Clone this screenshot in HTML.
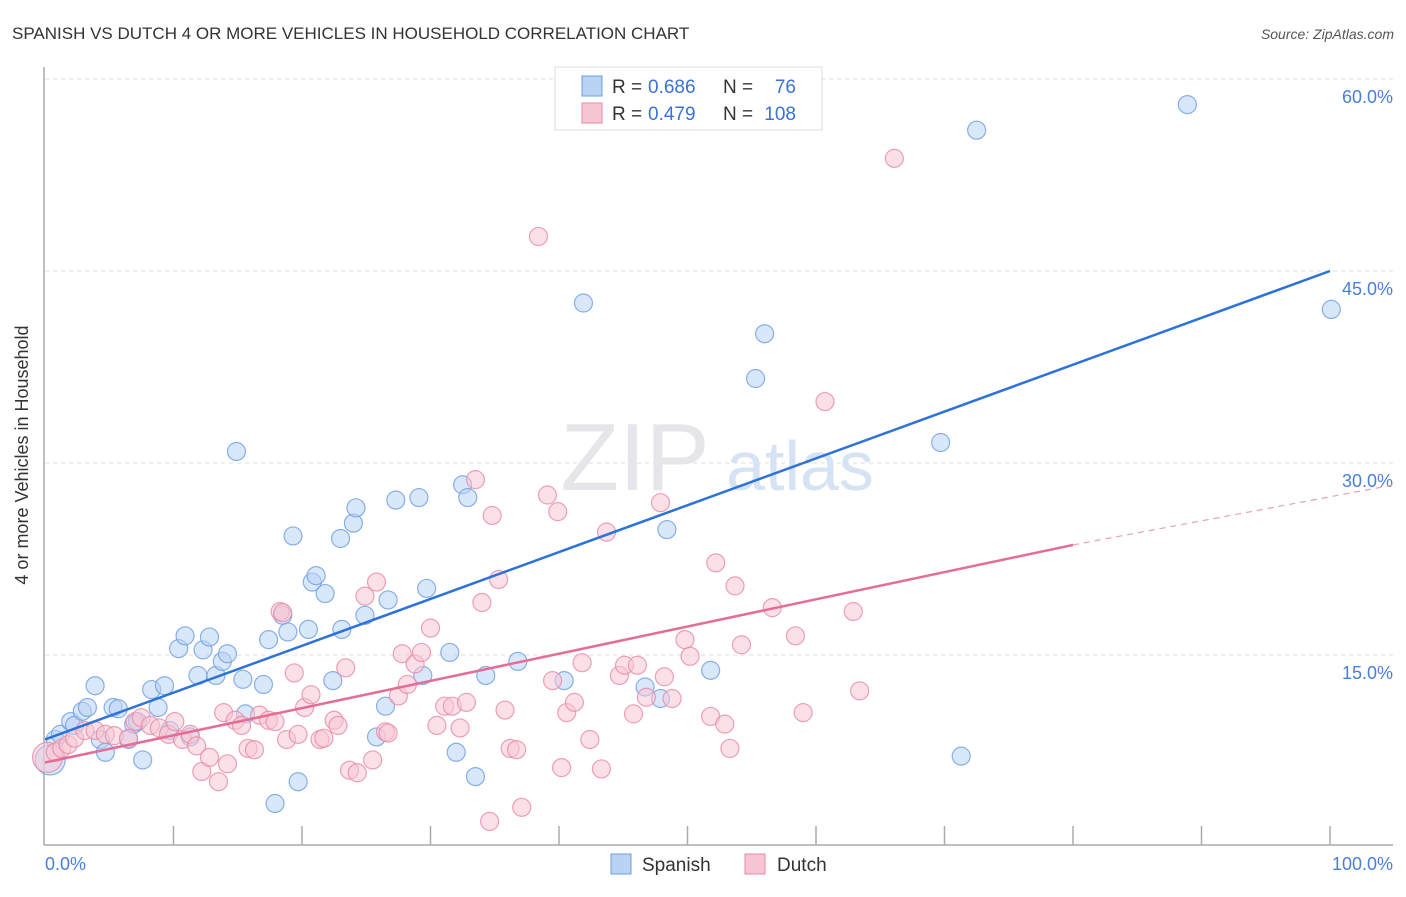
<!DOCTYPE html>
<html><head><meta charset="utf-8"><style>
body{margin:0;background:#fff;font-family:"Liberation Sans",sans-serif}
svg text{font-family:"Liberation Sans",sans-serif}
</style></head><body>
<svg width="1406" height="892" viewBox="0 0 1406 892" xmlns="http://www.w3.org/2000/svg">
<text x="12" y="39" font-size="17" fill="#333">SPANISH VS DUTCH 4 OR MORE VEHICLES IN HOUSEHOLD CORRELATION CHART</text>
<text x="1394" y="39" font-size="14" fill="#555" text-anchor="end" font-style="italic">Source: ZipAtlas.com</text>
<g id="grid"></g>
<text x="635" y="490" font-size="96" fill="#e6e6ea" font-family="Liberation Serif" text-anchor="middle">ZIP</text>
<text x="800" y="490" font-size="70" fill="#d5e3f5" text-anchor="middle">atlas</text>
<g id="axes"></g>
<g id="pts"></g>
<g id="lines"></g>
<text x="28" y="455" font-size="18" fill="#333" text-anchor="middle" transform="rotate(-90 28 455)">4 or more Vehicles in Household</text>
<text x="45" y="870" font-size="18" fill="#4a7fd8">0.0%</text>
<text x="1393" y="870" font-size="18" fill="#4a7fd8" text-anchor="end">100.0%</text>
<g>
<rect x="555" y="67" width="267" height="63" fill="#fff" stroke="#ddd"/>
<rect x="582" y="76" width="20" height="20" fill="#b9d3f5" stroke="#6d9de0"/>
<rect x="582" y="103" width="20" height="20" fill="#f8c6d3" stroke="#e98aa6"/>
<text x="612" y="93" font-size="19" fill="#333">R =</text>
<text x="648" y="93" font-size="19" fill="#3a72d6">0.686</text>
<text x="723" y="93" font-size="19" fill="#333">N =</text>
<text x="796" y="93" font-size="19" fill="#3a72d6" text-anchor="end">76</text>
<text x="612" y="120" font-size="19" fill="#333">R =</text>
<text x="648" y="120" font-size="19" fill="#3a72d6">0.479</text>
<text x="723" y="120" font-size="19" fill="#333">N =</text>
<text x="796" y="120" font-size="19" fill="#3a72d6" text-anchor="end">108</text>
</g>
<g>
<rect x="611" y="854" width="20" height="20" fill="#b9d3f5" stroke="#6d9de0"/>
<text x="642" y="871" font-size="19" fill="#333">Spanish</text>
<rect x="745" y="854" width="20" height="20" fill="#f8c6d3" stroke="#e98aa6"/>
<text x="777" y="871" font-size="19" fill="#333">Dutch</text>
</g>
</svg>
<script>
const yTicks=[15,30,45,60];
const yTickLabels=["15.0%","30.0%","45.0%","60.0%"];
const spanishX=[0.4,0.8,1.2,2.0,2.3,2.9,3.3,3.9,4.3,4.7,5.3,5.7,6.5,6.9,7.2,7.6,8.3,8.8,9.3,9.7,10.4,10.9,11.3,11.9,12.3,12.8,13.3,13.8,14.2,14.9,15.4,15.6,17.0,17.4,17.9,18.5,18.9,19.3,19.7,20.5,20.8,21.1,21.8,22.4,23.0,23.1,24.0,24.2,24.9,26.5,26.7,25.8,27.3,29.1,29.4,29.7,31.5,32.0,32.5,32.9,33.5,34.3,36.8,40.4,41.9,46.7,47.9,48.4,51.8,55.3,56.0,69.7,71.3,72.5,88.9,100.1];
const spanishY=[6.8,8.4,8.8,9.8,9.5,10.6,10.9,12.6,8.4,7.4,10.9,10.8,8.4,9.6,9.8,6.8,12.3,10.9,12.6,9.1,15.5,16.5,8.6,13.4,15.4,16.4,13.4,14.5,15.1,30.9,13.1,10.4,12.7,16.2,3.4,18.1,16.8,24.3,5.1,17.0,20.7,21.2,19.8,13.0,24.1,17.0,25.3,26.5,18.1,11.0,19.3,8.6,27.1,27.3,13.4,20.2,15.2,7.4,28.3,27.3,5.5,13.4,14.5,13.0,42.5,12.5,11.6,24.8,13.8,36.6,40.1,31.6,7.1,56.0,58.0,42.0];
const dutchX=[0.2,0.8,1.3,1.8,2.3,3.1,3.9,4.7,5.4,6.5,7.0,7.5,8.2,8.9,9.6,10.1,10.7,11.3,11.8,12.2,12.8,13.5,13.9,14.2,14.8,15.3,15.8,16.3,16.7,17.4,17.9,18.3,18.5,18.8,19.4,19.7,20.2,20.7,21.4,21.7,22.5,22.8,23.4,23.7,24.3,24.9,25.5,25.8,26.5,26.7,27.5,27.8,28.2,28.8,29.3,30.0,30.5,31.1,31.7,32.3,32.8,33.5,34.0,34.6,34.8,35.3,35.8,36.2,36.7,37.1,38.4,39.1,39.5,39.9,40.2,40.6,41.2,41.8,42.4,43.3,43.7,44.7,45.1,45.8,46.1,46.8,47.9,48.2,48.8,49.8,50.2,51.8,52.2,52.9,53.3,53.7,54.2,56.6,58.4,59.0,60.7,62.9,63.4,66.1];
const dutchY=[7.0,7.4,7.7,8.0,8.5,9.1,9.1,8.8,8.7,8.5,9.8,10.1,9.5,9.3,8.8,9.8,8.4,8.8,7.9,5.9,7.0,5.1,10.5,6.5,9.9,9.5,7.7,7.6,10.3,9.9,9.8,18.4,18.3,8.4,13.6,8.8,10.9,11.9,8.4,8.5,9.9,9.5,14.0,6.0,5.8,19.6,6.8,20.7,9.0,8.9,11.8,15.1,12.7,14.3,15.2,17.1,9.5,11.0,11.0,9.3,11.3,28.7,19.1,2.0,25.9,20.9,10.7,7.7,7.6,3.1,47.7,27.5,13.0,26.2,6.2,10.5,11.3,14.4,8.4,6.1,24.6,13.4,14.2,10.4,14.2,11.7,26.9,13.3,11.6,16.2,14.9,10.2,22.2,9.6,7.7,20.4,15.8,18.7,16.5,10.5,34.8,18.4,12.2,53.8];
const NS='http://www.w3.org/2000/svg';
const X0=45,X1=1330,Y0=847,PX=192/15;
const sx=v=>X0+(X1-X0)*v/100, sy=v=>Y0-v*PX;
function mk(t,a,p){const e=document.createElementNS(NS,t);for(const k in a)e.setAttribute(k,a[k]);document.getElementById(p).appendChild(e);return e;}
yTicks.forEach((t,i)=>{
 const l=mk('line',{x1:45,x2:1393,y1:sy(t),y2:sy(t),stroke:'#ddd','stroke-dasharray':'4,4'},'grid');
 
 
 const tx=mk('text',{x:1393,y:sy(t)+24,'font-size':18,fill:'#4a7fd8','text-anchor':'end'},'grid');
 tx.textContent=yTickLabels[i];
 
 
});
mk('line',{x1:44,x2:44,y1:67,y2:845,stroke:'#aaa','stroke-width':1.5},'axes');
mk('line',{x1:44,x2:1393,y1:845,y2:845,stroke:'#aaa','stroke-width':1.5},'axes');
for(let i=1;i<=10;i++){const t=mk('line',{x1:sx(i*10),x2:sx(i*10),y1:826,y2:845,stroke:'#aaa','stroke-width':1.5},'axes');
 
 }
function pts(xs,ys,fill,stroke,name){xs.forEach((x,i)=>{const c=mk('circle',{cx:sx(x),cy:sy(ys[i]),r:i==0?15:9,fill:fill,'fill-opacity':0.55,stroke:stroke,'stroke-width':1.2,'stroke-opacity':0.8},'pts');
 
 });}
pts(spanishX,spanishY,'#b9d3f5','#6d9de0','spanish-point');
pts(dutchX,dutchY,'#f8c6d3','#e98aa6','dutch-point');
const blueLine=[[0,8.4],[100,45.0]], pinkLine=[[0,6.6],[80,23.6]], pinkDash=[[80,23.6],[105,28.3]];
let l=mk('line',{x1:sx(blueLine[0][0]),y1:sy(blueLine[0][1]),x2:sx(blueLine[1][0]),y2:sy(blueLine[1][1]),stroke:'#2c72d8','stroke-width':2.5},'lines');


l=mk('line',{x1:sx(pinkLine[0][0]),y1:sy(pinkLine[0][1]),x2:sx(pinkLine[1][0]),y2:sy(pinkLine[1][1]),stroke:'#e56c95','stroke-width':2.5},'lines');


l=mk('line',{x1:sx(pinkDash[0][0]),y1:sy(pinkDash[0][1]),x2:sx(pinkDash[1][0]),y2:sy(pinkDash[1][1]),stroke:'#e8a0b8','stroke-width':1.2,'stroke-dasharray':'6,5'},'lines');


</script>
</body></html>
